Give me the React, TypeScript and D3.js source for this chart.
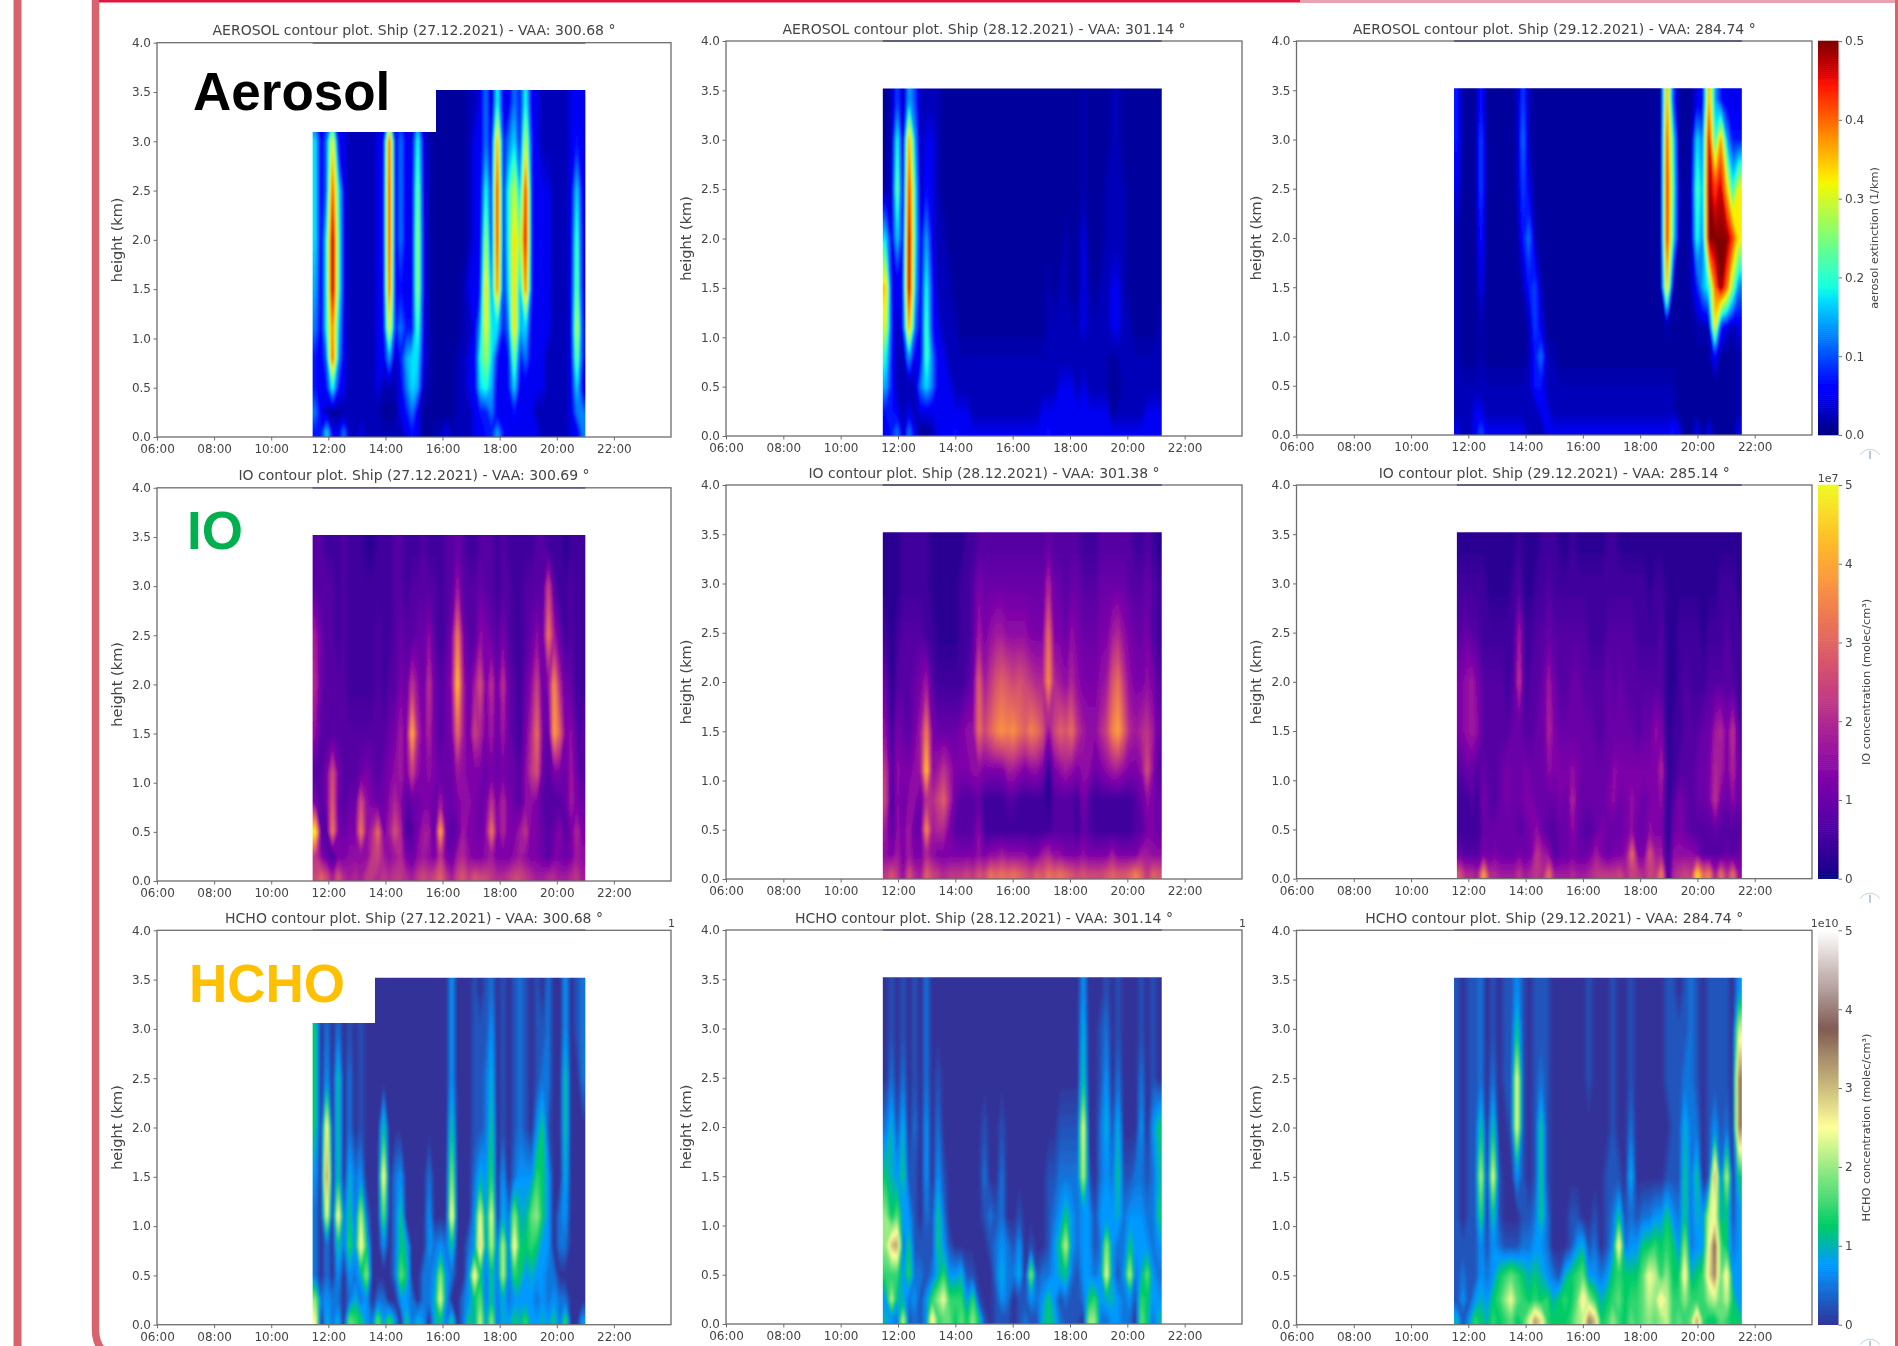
import * as d3 from "d3";
import React, { useRef, useEffect } from "react";

// values are read off the picture, in twentieths of each colour bar's range
// one row per height, 48 time cells across the flight
const heights = [3.4, 3.0, 2.5, 2.0, 1.5, 1.1, 0.8, 0.5, 0.25, 0.05];
const hours = ["06:00", "08:00", "10:00", "12:00", "14:00", "16:00", "18:00", "20:00", "22:00"];

const aerosol27 = [
  [2,1,2,2,2,2,1,1, 1,1,1,1,2,2,1,2, 1,1,3,1,0,0,0,0, 0,0,0,1,1,2,5,1, 8,2,2,5,3,8,2,2, 1,1,1,1,1,2,2,2],
  [7,2,5,13,2,2,1,1, 1,1,1,2,2,17,2,5, 2,2,8,2,1,0,0,0, 0,0,0,1,2,2,5,2, 15,3,5,7,3,12,3,2, 1,1,1,1,1,2,3,2],
  [7,2,5,17,8,2,1,1, 1,1,1,2,2,18,2,5, 2,2,10,2,1,0,0,0, 0,0,0,1,2,2,8,3, 18,3,8,12,6,18,3,2, 2,2,1,1,1,2,7,2],
  [7,2,8,20,9,2,1,1, 1,1,1,2,2,18,2,5, 2,2,11,2,1,0,0,0, 0,0,0,1,2,2,11,3, 18,3,8,14,10,19,3,2, 2,2,1,1,1,2,9,2],
  [6,2,8,20,9,2,1,1, 1,1,1,2,2,17,2,3, 2,2,11,2,1,0,0,0, 0,0,1,2,2,3,14,5, 16,3,7,14,6,16,3,2, 2,2,1,1,1,2,10,2],
  [5,2,8,16,7,2,1,1, 1,1,1,2,2,13,3,5, 3,3,9,2,1,0,0,0, 0,0,1,1,2,6,13,7, 7,3,5,14,6,7,2,2, 2,2,1,1,1,2,12,3],
  [3,2,5,17,6,2,1,1, 1,1,1,2,2,6,1,3, 6,7,7,2,1,0,0,0, 0,1,1,2,2,8,11,7, 3,2,3,10,3,5,2,2, 2,1,1,1,1,2,10,3],
  [3,2,3,8,3,2,1,1, 1,1,1,2,1,1,1,2, 5,7,6,1,1,0,0,0, 0,1,1,2,2,7,8,6, 2,2,3,7,2,2,2,2, 2,1,1,1,1,2,7,2],
  [5,2,1,0,0,1,1,1, 1,1,1,1,0,0,0,2, 3,5,2,0,0,0,0,0, 0,1,1,1,2,3,3,5, 2,2,2,3,2,2,2,1, 1,1,1,1,1,2,5,5],
  [3,3,7,2,2,5,1,1, 2,1,1,1,1,1,1,1, 2,3,2,0,0,1,1,2, 1,1,1,1,2,2,3,3, 6,3,2,2,2,2,2,2, 1,1,1,1,1,2,2,5],
];
const aerosol28 = [
  [0,1,4,1,6,4,1,1, 1,1,0,0,0,0,0,0, 0,0,0,0,0,0,0,0, 0,0,0,0,0,0,0,0, 0,0,1,0,0,0,0,1, 1,0,0,0,0,0,0,0],
  [0,1,8,1,15,6,1,2, 2,1,0,0,0,0,0,0, 0,0,0,0,0,0,0,0, 0,0,0,0,0,0,0,0, 0,0,1,0,0,0,0,1, 1,0,0,0,0,0,0,0],
  [1,1,10,1,18,8,1,3, 2,1,0,0,0,0,0,0, 0,0,0,0,0,0,0,0, 0,0,0,0,0,0,0,0, 0,0,1,0,0,0,1,1, 1,1,0,0,0,0,0,0],
  [7,2,7,2,20,8,2,6, 2,1,1,0,0,0,0,0, 0,0,0,0,0,0,0,0, 0,0,0,0,0,0,0,1, 0,0,2,0,0,0,1,1, 1,1,0,0,0,0,0,0],
  [14,2,2,3,20,7,2,8, 3,1,1,1,0,0,0,0, 0,0,0,0,0,0,0,0, 0,0,0,0,1,0,1,1, 0,0,2,1,0,1,1,2, 2,1,0,0,0,0,0,0],
  [12,3,1,3,15,5,2,9, 3,2,1,1,1,0,0,0, 0,0,0,0,0,0,0,0, 0,0,0,0,1,1,1,1, 1,1,2,1,1,1,1,2, 2,1,1,0,0,0,0,1],
  [8,3,1,1,6,2,2,9, 5,2,2,1,1,1,1,1, 1,1,1,1,1,1,1,1, 1,1,1,1,1,1,1,1, 1,1,1,1,1,1,1,0, 1,1,1,1,1,1,1,1],
  [6,3,1,1,1,1,5,7, 5,2,2,2,1,1,1,1, 1,1,1,1,1,1,1,1, 1,1,1,1,1,1,2,2, 2,1,2,1,1,1,1,0, 0,1,1,1,1,1,1,1],
  [3,3,2,1,2,1,2,2, 2,2,2,2,2,2,2,1, 1,1,1,1,1,1,1,1, 1,1,1,2,2,2,2,2, 2,2,2,2,2,2,2,0, 1,1,1,1,1,2,2,2],
  [2,3,5,1,5,2,0,0, 1,2,2,2,3,2,2,2, 2,2,2,2,2,2,2,2, 2,2,2,2,3,2,2,2, 2,2,2,2,2,2,2,2, 2,2,2,2,2,2,2,2],
];
const aerosol29 = [
  [3,0,0,0,3,0,0,0, 0,0,1,4,1,0,0,0, 0,0,0,0,0,0,0,0, 0,0,0,0,0,0,0,0, 0,0,0,15,4,0,0,0, 2,2,15,6,3,2,2,2],
  [3,0,0,0,4,0,0,0, 0,0,1,5,1,0,0,0, 0,0,0,0,0,0,0,0, 0,0,0,0,0,0,0,0, 0,0,0,17,8,0,0,0, 7,5,19,8,15,6,3,3],
  [2,0,0,0,4,0,0,0, 0,0,1,4,2,0,0,0, 0,0,0,0,0,0,0,0, 0,0,0,0,0,0,0,0, 0,0,0,18,9,1,0,1, 9,6,20,17,19,14,8,13],
  [1,0,0,0,3,0,0,0, 0,0,0,3,5,1,0,0, 0,0,0,0,0,0,0,0, 0,0,0,0,0,0,0,0, 0,0,0,18,8,1,0,1, 8,5,20,20,20,20,17,13],
  [1,0,0,0,2,0,0,0, 0,0,0,1,3,4,1,0, 0,0,0,0,0,0,0,0, 0,0,0,0,0,0,0,0, 0,0,0,14,1,0,0,1, 3,6,8,16,20,16,10,5],
  [1,0,0,0,1,0,0,0, 0,0,0,0,1,4,2,0, 0,0,0,0,0,0,0,0, 0,0,0,0,0,0,0,0, 0,0,0,1,0,0,0,0, 1,1,1,13,3,2,1,2],
  [1,0,0,0,1,0,0,0, 0,0,0,0,1,3,5,1, 1,0,0,0,0,0,0,0, 0,0,0,0,0,0,0,0, 0,0,0,0,0,0,0,0, 0,0,0,3,0,0,0,1],
  [1,1,1,1,1,1,1,1, 1,1,1,1,1,3,3,1, 1,1,1,1,1,1,1,1, 1,1,1,1,1,1,1,1, 1,1,1,1,1,0,0,0, 0,0,0,0,0,0,0,1],
  [1,1,1,2,2,1,1,1, 1,1,1,1,1,1,2,2, 1,1,1,1,1,1,1,1, 1,1,1,1,1,1,1,1, 1,1,1,1,1,0,0,0, 0,0,0,0,0,0,0,1],
  [2,1,1,2,4,2,2,2, 2,2,2,2,1,1,1,2, 2,2,2,2,2,2,2,2, 2,2,2,2,2,2,2,2, 2,2,2,2,3,2,0,0, 2,0,2,0,0,0,0,2],
];
const io27 = [
  [3,3,2,2,2,3,2,2, 2,1,1,2,2,2,3,3, 2,2,2,3,2,2,2,3, 3,4,3,2,2,3,3,3, 2,3,2,2,2,2,2,3, 3,2,2,2,1,2,2,2],
  [3,3,3,3,2,3,2,2, 2,2,2,2,2,2,3,3, 2,3,3,3,3,3,2,3, 3,7,3,3,3,4,3,3, 2,3,3,2,2,3,3,3, 3,10,3,2,2,3,2,2],
  [7,4,3,3,2,3,2,2, 2,2,2,3,2,2,3,4, 3,3,4,4,6,3,2,3, 5,14,5,3,3,6,5,4, 3,5,3,2,2,3,4,6, 4,14,7,4,2,3,2,2],
  [8,4,3,3,3,3,2,2, 2,2,2,3,2,3,3,5, 4,9,6,4,9,4,3,4, 6,18,7,4,7,11,5,9, 4,9,4,3,2,4,6,10, 4,6,15,8,4,4,2,2],
  [6,3,3,3,3,3,3,3, 3,3,3,3,3,4,5,7, 5,17,8,5,8,4,3,4, 5,13,7,4,10,8,5,7, 4,7,4,3,2,5,8,13, 5,3,16,12,5,6,3,3],
  [3,3,5,11,5,3,3,3, 4,5,4,3,4,5,6,7, 5,10,6,5,6,5,4,4, 4,7,6,5,5,5,4,5, 4,5,4,4,3,6,9,11, 4,3,5,5,4,7,4,3],
  [5,3,5,12,4,3,4,4, 11,6,5,4,4,6,8,6, 3,4,4,5,5,4,7,4, 4,5,6,6,5,4,5,9, 5,8,5,4,3,6,6,5, 3,3,3,3,4,7,5,4],
  [20,3,3,14,5,4,5,5, 14,6,8,13,5,7,11,8, 2,3,5,7,7,3,17,4, 3,4,7,5,5,4,6,14, 5,8,5,5,7,9,5,5, 4,3,4,6,3,5,8,5],
  [9,6,4,2,5,5,6,6, 6,6,9,10,7,6,7,8, 5,4,6,7,6,5,9,5, 4,7,8,6,5,5,6,7, 5,5,5,6,7,6,5,5, 4,3,5,5,4,5,7,6],
  [10,12,10,7,11,8,7,8, 7,9,9,8,9,8,9,9, 8,7,9,10,9,10,12,9, 7,10,11,9,11,10,10,9, 8,8,9,10,10,9,8,7, 7,8,8,7,7,8,9,7],
];
const io28 = [
  [1,1,1,2,2,2,2,2, 1,1,1,1,1,1,2,2, 3,3,3,3,3,3,3,3, 3,3,3,3,4,3,3,3, 3,3,2,2,2,3,3,3, 3,3,3,2,2,3,2,1],
  [1,1,1,2,2,2,2,2, 1,1,1,1,1,2,2,3, 5,4,4,4,4,4,4,4, 4,4,4,4,8,4,4,3, 4,4,3,3,3,4,4,4, 4,4,3,3,3,4,3,2],
  [2,1,2,3,3,3,3,2, 2,1,1,1,1,2,2,3, 7,5,6,7,7,6,6,6, 6,5,5,5,13,5,5,4, 6,5,4,4,4,5,5,7, 8,6,5,4,4,5,3,2],
  [4,1,3,3,3,4,5,7, 3,2,2,2,2,2,3,4, 12,7,9,11,12,11,10,11, 10,9,8,8,15,8,7,6, 8,6,5,5,5,6,7,11, 13,9,6,5,5,6,5,3],
  [6,2,5,4,3,5,7,14, 5,4,4,4,4,5,6,6, 13,10,12,14,15,14,15,13, 12,14,13,11,6,10,12,11, 13,9,7,6,6,8,10,14, 16,12,8,7,8,9,7,4],
  [9,3,6,5,5,6,7,18, 6,7,9,7,5,5,5,6, 6,5,5,5,5,7,7,6, 5,6,6,5,1,5,6,7, 6,5,6,6,4,5,6,7, 7,6,5,5,6,11,6,3],
  [10,2,6,4,6,6,4,9, 8,10,12,8,4,3,3,3, 4,2,2,2,2,3,3,2, 2,2,2,2,1,3,3,3, 3,2,5,3,2,2,2,2, 2,2,2,3,4,6,5,4],
  [7,3,6,5,7,4,4,15, 7,8,8,5,3,3,3,3, 6,2,2,2,2,2,2,2, 2,2,2,2,2,3,3,3, 3,2,4,3,2,2,2,2, 2,2,2,3,3,5,5,4],
  [6,5,7,5,7,5,5,8, 6,5,5,5,5,5,5,5, 6,5,6,6,7,6,6,6, 6,5,5,7,8,6,6,5, 5,5,6,5,5,5,5,7, 5,5,5,5,7,7,6,6],
  [9,11,9,6,11,8,7,12, 10,9,8,9,9,9,10,9, 11,10,13,12,13,12,13,12, 11,10,12,11,13,12,13,12, 11,10,11,10,10,10,11,12, 11,11,12,14,12,9,12,11],
];
const io29 = [
  [1,1,1,1,1,1,1,1, 1,1,2,1,1,1,2,2, 2,1,1,2,1,1,1,1, 1,2,2,1,1,1,1,1, 1,1,1,1,1,1,1,1, 1,1,1,1,1,1,1,1],
  [2,2,2,2,2,1,1,1, 1,2,3,1,1,2,2,3, 2,2,2,2,2,2,2,2, 2,2,2,2,2,2,2,2, 1,2,2,1,1,1,1,1, 1,1,1,1,2,2,2,1],
  [3,4,3,3,2,2,2,2, 2,2,7,2,2,3,3,4, 3,3,3,3,3,3,2,2, 2,3,3,3,3,3,2,2, 2,2,3,1,1,2,2,2, 2,1,2,2,2,3,2,2],
  [5,6,7,5,3,3,3,3, 2,3,9,2,3,3,4,7, 4,3,3,4,4,3,3,3, 3,4,3,4,3,3,3,3, 3,3,3,1,1,2,3,2, 2,2,3,3,3,3,3,2],
  [5,6,7,6,3,3,3,3, 3,4,4,3,3,4,4,8, 5,4,4,4,4,4,4,3, 3,4,4,4,4,4,3,4, 4,6,5,1,2,2,3,3, 3,4,4,7,8,5,9,3],
  [3,4,4,3,4,3,3,4, 5,4,4,5,4,4,4,6, 5,5,5,6,5,4,4,4, 4,4,6,5,5,5,5,5, 5,5,8,1,2,3,3,3, 4,4,5,8,7,5,8,4],
  [2,2,3,2,5,3,3,4, 5,4,4,5,5,4,4,4, 4,5,4,8,4,4,4,4, 4,5,6,4,5,6,5,4, 5,5,6,1,3,5,4,3, 4,4,5,9,5,4,6,4],
  [2,2,2,2,4,4,4,4, 4,4,3,4,5,6,4,3, 3,4,4,6,4,3,3,4, 5,4,4,4,5,6,4,4, 6,5,5,1,4,5,4,3, 3,3,3,4,3,3,3,3],
  [4,3,3,3,5,4,5,4, 4,4,5,4,5,9,7,6, 3,4,4,5,4,4,5,7, 5,4,5,5,6,13,5,5, 11,7,7,1,6,6,6,6, 5,3,3,3,3,4,3,4],
  [11,8,8,7,16,8,8,7, 7,7,9,7,8,9,8,13, 7,7,7,8,7,7,8,9, 9,9,9,10,8,10,9,8, 10,9,14,2,8,9,10,9, 19,12,14,7,13,8,13,6],
];
const hcho27 = [
  [2,2,1,1,1,0,1,1, 1,0,0,0,0,0,0,0, 0,0,0,0,0,0,0,0, 3,0,0,0,1,0,1,2, 0,1,0,1,2,1,0,1, 0,2,0,0,3,0,1,2],
  [5,0,2,0,2,0,1,0, 1,0,0,0,0,0,0,0, 0,0,0,0,0,0,0,0, 3,0,0,0,1,1,1,3, 0,1,0,1,2,1,0,1, 1,2,0,0,3,0,1,2],
  [5,0,3,0,5,0,2,0, 1,0,0,0,0,0,0,0, 0,0,0,0,0,0,0,0, 3,0,0,0,1,1,2,4, 0,1,0,1,2,1,0,1, 2,2,0,0,5,0,0,2],
  [5,0,11,0,5,0,2,0, 1,0,0,0,5,0,0,0, 0,0,0,0,0,0,0,0, 5,0,0,0,1,1,2,5, 0,1,0,1,2,1,0,3, 5,1,0,0,5,0,0,0],
  [3,0,14,0,5,0,4,2, 3,0,0,0,11,0,2,3, 0,0,0,0,2,0,0,0, 8,0,0,0,2,4,3,6, 0,3,0,2,3,3,3,6, 5,3,0,0,4,0,0,0],
  [2,0,10,0,11,2,5,2, 9,2,0,0,7,0,2,5, 0,0,0,0,3,0,0,0, 11,0,0,0,3,10,3,10, 0,4,2,8,4,4,7,8, 5,3,0,2,3,0,0,0],
  [2,0,2,0,5,2,6,3, 11,5,0,0,3,0,2,5, 4,0,0,0,3,2,3,2, 5,0,0,2,3,12,3,9, 2,9,2,11,5,5,6,5, 3,3,0,2,2,0,0,0],
  [2,0,2,0,3,0,3,2, 4,8,0,0,0,0,2,7, 5,0,0,2,2,3,8,3, 2,0,0,3,11,5,2,5, 2,9,2,6,5,3,4,3, 3,2,2,0,0,0,0,0],
  [8,2,3,2,2,0,2,4, 2,3,0,2,2,0,0,3, 3,2,0,2,2,4,10,3, 0,0,2,3,5,7,2,5, 2,4,2,3,3,3,3,2, 3,2,3,2,2,0,0,0],
  [10,0,4,2,4,0,7,6, 5,3,2,7,3,6,3,0, 5,2,4,3,0,4,5,2, 5,0,2,5,4,9,3,8, 2,4,3,5,4,6,3,3, 4,3,5,2,6,0,0,3],
];
const hcho28 = [
  [0,1,0,1,0,1,0,2, 0,0,0,0,0,0,0,0, 0,0,0,0,0,0,0,0, 0,0,0,0,0,0,0,0, 0,0,3,0,0,0,1,0, 1,0,0,0,1,0,1,0],
  [0,1,0,1,0,1,0,2, 0,0,0,0,0,0,0,0, 0,0,0,0,0,0,0,0, 0,0,0,0,0,0,0,0, 0,0,4,0,0,1,2,0, 1,0,0,0,1,0,1,0],
  [0,2,0,2,0,1,0,2, 0,1,0,0,0,0,0,0, 0,0,0,0,0,0,0,0, 0,0,0,0,0,0,0,0, 0,0,5,0,0,1,3,0, 2,0,0,0,2,0,1,0],
  [2,4,1,4,0,2,0,3, 0,2,0,0,0,0,0,0, 0,1,0,0,1,0,0,0, 0,0,0,0,0,0,1,1, 1,1,10,0,0,2,4,1, 4,0,0,0,3,0,3,5],
  [5,4,3,5,1,1,0,3, 0,3,1,0,0,0,0,0, 0,2,0,0,2,0,0,0, 0,0,0,0,1,1,2,2, 2,2,9,1,0,2,3,2, 5,1,1,2,2,1,2,4],
  [8,5,7,3,3,1,0,2, 1,5,2,0,0,0,0,0, 0,1,2,1,2,0,0,1, 0,0,0,0,1,2,3,5, 3,2,3,3,1,3,3,3, 4,2,3,3,3,2,2,5],
  [8,12,13,2,5,1,1,1, 1,5,3,1,0,0,0,0, 0,0,1,2,3,2,1,3, 0,1,0,0,1,3,5,9, 3,2,3,3,1,2,8,3, 2,2,5,3,3,3,2,3],
  [6,6,6,3,6,2,2,1, 2,4,6,3,3,4,1,1, 0,0,0,2,4,2,2,4, 0,8,1,2,2,3,4,5, 2,1,3,3,2,3,10,3, 1,3,9,2,4,7,3,2],
  [3,9,4,4,2,3,1,3, 6,8,10,6,6,6,3,6, 1,0,0,1,3,2,0,1, 1,3,2,3,5,3,1,2, 1,1,2,5,6,3,4,4, 3,2,3,1,6,5,3,3],
  [4,3,2,9,1,2,1,3, 11,6,7,7,5,7,5,8, 5,1,0,1,1,1,0,1, 2,1,1,4,5,4,2,1, 1,1,0,8,8,2,2,3, 3,2,2,0,7,5,2,4],
];
const hcho29 = [
  [1,0,1,1,2,0,1,0, 1,1,3,1,0,1,1,1, 0,0,0,0,0,0,1,0, 0,0,1,0,0,1,0,0, 0,0,0,1,1,0,1,2, 1,0,1,1,1,1,0,3],
  [1,0,1,1,2,0,1,0, 1,1,5,1,0,1,1,1, 0,0,0,0,0,0,1,0, 0,0,1,0,0,1,0,0, 0,0,0,1,1,1,1,2, 1,0,1,1,1,1,0,9],
  [1,0,1,1,2,0,2,0, 1,1,10,1,0,1,2,1, 0,0,0,0,0,0,1,0, 0,0,1,0,0,1,0,0, 0,0,0,1,1,1,2,2, 1,0,1,1,1,1,0,14],
  [1,0,1,1,5,0,5,0, 0,1,10,1,0,1,5,1, 0,0,0,0,0,0,0,0, 0,0,1,0,0,2,0,0, 0,0,0,0,1,1,4,2, 2,0,1,3,1,2,0,14],
  [1,0,1,1,9,0,10,1, 0,0,3,1,0,1,5,1, 0,0,0,0,0,0,0,0, 0,1,1,1,0,4,0,0, 0,0,0,1,1,1,5,2, 5,0,1,13,2,9,0,5],
  [1,0,1,1,6,0,5,1, 0,0,0,1,1,2,5,2, 0,0,0,1,1,0,0,1, 0,1,2,5,1,2,1,2, 2,3,3,5,3,2,5,2, 4,3,9,10,4,5,1,3],
  [1,1,1,1,3,1,3,2, 1,1,1,2,2,3,3,2, 0,0,0,1,3,4,1,2, 0,1,3,11,2,3,3,5, 5,6,5,6,5,3,8,2, 3,3,10,15,6,5,2,3],
  [1,2,1,1,3,2,3,5, 6,7,6,5,4,5,4,3, 2,1,4,5,6,7,3,3, 2,3,5,6,5,5,5,7, 10,9,6,8,5,5,11,4, 5,6,11,14,7,11,3,3],
  [1,3,1,3,4,3,5,6, 8,10,7,6,5,6,5,6, 4,5,6,5,7,11,8,6, 4,5,6,7,5,6,6,7, 9,8,11,9,6,6,8,6, 6,6,8,9,7,9,5,3],
  [4,1,3,6,5,4,6,5, 6,7,5,6,9,13,11,6, 5,5,5,6,8,9,14,12, 5,6,8,6,5,7,6,7, 8,7,8,9,6,7,6,7, 13,6,5,5,7,6,5,5],
];

const grids = [
  [aerosol27, aerosol28, aerosol29],
  [io27, io28, io29],
  [hcho27, hcho28, hcho29],
];
const titles = [
  ["AEROSOL contour plot. Ship (27.12.2021) - VAA: 300.68 °", "AEROSOL contour plot. Ship (28.12.2021) - VAA: 301.14 °", "AEROSOL contour plot. Ship (29.12.2021) - VAA: 284.74 °"],
  ["IO contour plot. Ship (27.12.2021) - VAA: 300.69 °", "IO contour plot. Ship (28.12.2021) - VAA: 301.38 °", "IO contour plot. Ship (29.12.2021) - VAA: 285.14 °"],
  ["HCHO contour plot. Ship (27.12.2021) - VAA: 300.68 °", "HCHO contour plot. Ship (28.12.2021) - VAA: 301.14 °", "HCHO contour plot. Ship (29.12.2021) - VAA: 284.74 °"],
];
// flight start and end (hours), one pair per panel
const flightStart = [[11.45, 11.47, 11.5], [11.45, 11.47, 11.6], [11.45, 11.47, 11.5]];
const flightEnd = [[21, 21.2, 21.55], [21, 21.2, 21.55], [21, 21.2, 21.55]];
const topHeight = 3.52;
// the aerosol background never reaches the very bottom of the jet bar
const fieldFloor = [0.6, 0, 0];

const colLeft = [157, 726, 1296.5];
const colRight = [671, 1242, 1812];
const rowTop = [[42.7, 41, 41], [487.8, 485, 485], [930.3, 930, 930.3]];
const rowBottom = [[437, 436, 435], [881, 879, 878.7], [1324.7, 1324, 1324.7]];

const barTicks = [[0, 0.1, 0.2, 0.3, 0.4, 0.5], [0, 1, 2, 3, 4, 5], [0, 1, 2, 3, 4, 5]];
const barLabels = ["aerosol extinction (1/km)", "IO concentration (molec/cm³)", "HCHO concentration (molec/cm³)"];
const barExponents = ["", "1e7", "1e10"];

const jetStops = [0, 0.11, 0.125, 0.34, 0.375, 0.5, 0.64, 0.66, 0.89, 0.91, 1];
const jetColors = ["#00007f", "#0000ff", "#0000ff", "#00dbff", "#14ffe2", "#7cff79", "#f4f802", "#ffe600", "#ff1300", "#e80000", "#7f0000"];
const terrainStops = [0, 0.15, 0.25, 0.5, 0.75, 1];
const terrainColors = ["#333399", "#0099ff", "#00cc66", "#ffff99", "#805c54", "#ffffff"];

const jet = d3.scaleLinear<string>().domain(jetStops).range(jetColors).interpolate(d3.interpolateRgb);
const terrain = d3.scaleLinear<string>().domain(terrainStops).range(terrainColors).interpolate(d3.interpolateRgb);
const colorMaps: ((t: number) => string)[] = [jet, d3.interpolatePlasma, terrain];

const FONT = "'DejaVu Sans', sans-serif";
const INK = "#444444";
const SPINE = "#6e6e6e";

// repeat the outer cells once, the contour rings then close outside the clip
const padGrid = (grid: number[][]) => {
  const rows = grid.map((row) => [row[0], ...row, row[row.length - 1]]);
  return [rows[0], ...rows, rows[rows.length - 1]];
};

const App = () => {
  const ref = useRef<SVGSVGElement>(null);

  useEffect(() => {
    const svgRoot = d3.select(ref.current);
    svgRoot.selectAll("*").remove();

    const defs = svgRoot.append("defs");
    defs.append("filter").attr("id", "soft").attr("x", "-5%").attr("y", "-5%").attr("width", "110%").attr("height", "110%")
      .append("feGaussianBlur").attr("stdDeviation", "1.1 1.4");
    // the source is a rescaled screenshot, everything is slightly out of focus
    defs.append("filter").attr("id", "focus").attr("filterUnits", "userSpaceOnUse")
      .attr("x", 0).attr("y", 0).attr("width", 1898).attr("height", 1346)
      .append("feGaussianBlur").attr("stdDeviation", 0.45);
    const svg = svgRoot.append("g").attr("filter", "url(#focus)");

    const levels = d3.range(0, 20.01, 0.25);
    const nRows = heights.length;
    const cellEdges = [-1, 0, ...heights.map((_, j) => j + 0.5), nRows, nRows + 1];
    const cellHeights = [topHeight + 0.1, topHeight, ...heights, 0, -0.1];

    grids.forEach((row, r) => {
      row.forEach((grid, c) => {
        const left = colLeft[c], right = colRight[c], top = rowTop[r][c], bottom = rowBottom[r][c];
        const x = d3.scaleLinear().domain([6, 24]).range([left, right]);
        const y = d3.scaleLinear().domain([0, 4]).range([bottom, top]);
        const g = svg.append("g");
        const clipId = `clip-${r}-${c}`;
        const nCols = grid[0].length;
        const start = flightStart[r][c], end = flightEnd[r][c];

        // contour coordinates (with the padding cell) -> hours / km -> pixels
        const cellX = d3.scaleLinear().domain([0, nCols]).range([start, end]);
        const cellY = d3.scaleLinear().domain(cellEdges).range(cellHeights);
        const project = d3.geoTransform({
          point(px: number, py: number) {
            (this as any).stream.point(x(cellX(px - 1)), y(cellY(py - 1)));
          },
        });
        const path = d3.geoPath(project);
        const values = padGrid(grid).flat().map((v) => Math.max(v, fieldFloor[r]));
        const contours = d3.contours().size([nCols + 2, nRows + 2]).thresholds(levels)(values);

        defs.append("clipPath").attr("id", clipId).append("rect")
          .attr("x", x(start)).attr("y", y(topHeight))
          .attr("width", x(end) - x(start)).attr("height", y(0) - y(topHeight));

        const clipped = g.append("g").attr("clip-path", `url(#${clipId})`);
        clipped.append("g").attr("filter", "url(#soft)")
          .selectAll("path").data(contours).enter().append("path")
          .attr("d", (d: any) => path(d))
          .attr("fill", (d: any) => colorMaps[r](d.value / 20));

        // the flight line along the top of the frame
        g.append("line").attr("x1", x(start)).attr("x2", x(end)).attr("y1", top).attr("y2", top)
          .attr("stroke", colorMaps[r](0)).attr("stroke-width", 1.6);

        g.append("rect").attr("x", left).attr("y", top).attr("width", right - left).attr("height", bottom - top)
          .attr("fill", "none").attr("stroke", SPINE).attr("stroke-width", 1.3);

        const axisBottom = d3.axisBottom(x)
          .tickValues(hours.map((h) => +h.slice(0, 2)))
          .tickFormat((d: any) => hours[(d - 6) / 2])
          .tickSize(3.5).tickPadding(4);
        const ax = g.append("g").attr("transform", `translate(0,${bottom})`).call(axisBottom);
        const axisLeft = d3.axisLeft(y).tickValues(d3.range(0, 4.01, 0.5)).tickFormat(d3.format(".1f")).tickSize(3.5).tickPadding(2.5);
        const ay = g.append("g").attr("transform", `translate(${left},0)`).call(axisLeft);
        [ax, ay].forEach((a) => {
          a.select(".domain").remove();
          a.attr("font-family", FONT).attr("font-size", 12);
          a.selectAll("line").attr("stroke", SPINE);
          a.selectAll("text").attr("fill", INK);
        });

        g.append("text").attr("x", (left + right) / 2).attr("y", top - 7.5)
          .attr("text-anchor", "middle").attr("font-family", FONT).attr("font-size", 14).attr("fill", INK)
          .text(titles[r][c]);
        g.append("text").attr("transform", `translate(${left - 35.5},${(top + bottom) / 2}) rotate(-90)`)
          .attr("text-anchor", "middle").attr("font-family", FONT).attr("font-size", 14.5).attr("fill", INK)
          .text("height (km)");
      });

      // colour bar
      const top = rowTop[r][2], bottom = rowBottom[r][2];
      const ticks = barTicks[r];
      const barScale = d3.scaleLinear().domain([ticks[0], ticks[5]]).range([bottom, top]);
      const bar = svg.append("g");
      const steps = d3.range(0, 1, 1 / 200);
      bar.selectAll("rect").data(steps).enter().append("rect")
        .attr("x", 1818).attr("width", 20.5)
        .attr("y", (t: number) => barScale(ticks[5] * (t + 1 / 200)) - 0.3)
        .attr("height", (bottom - top) / 200 + 0.6)
        .attr("fill", (t: number) => colorMaps[r](t + 0.0025));
      const axisBar = d3.axisRight(barScale).tickValues(ticks)
        .tickFormat(r === 0 ? d3.format(".1f") : d3.format("d")).tickSize(3.5).tickPadding(3);
      const ab = bar.append("g").attr("transform", "translate(1838.5,0)").call(axisBar);
      ab.select(".domain").remove();
      ab.attr("font-family", FONT).attr("font-size", 12);
      ab.selectAll("line").attr("stroke", SPINE);
      ab.selectAll("text").attr("fill", INK);
      bar.append("text").attr("transform", `translate(${r === 0 ? 1878 : 1870},${(top + bottom) / 2}) rotate(-90)`)
        .attr("text-anchor", "middle").attr("font-family", FONT).attr("font-size", 11.3).attr("fill", INK)
        .text(barLabels[r]);
      if (barExponents[r]) {
        bar.append("text").attr("x", 1838.5).attr("y", top - 3).attr("text-anchor", "end")
          .attr("font-family", FONT).attr("font-size", 11).attr("fill", INK).text(barExponents[r]);
      }
      // faint logo remnant under each bar
      const arc = d3.arc()({ innerRadius: 11, outerRadius: 12, startAngle: -1, endAngle: 1 } as any);
      const logo = svg.append("g").attr("transform", `translate(1870,${bottom + 26})`);
      logo.append("path").attr("d", arc).attr("fill", "#c3d3e8");
      logo.append("line").attr("y1", -10).attr("y2", -2).attr("stroke", "#8aa6c8").attr("stroke-width", 1.2);
    });

    // stray clipped characters of the next axes
    [671, 1242].forEach((x0) => {
      svg.append("text").attr("x", x0 - 3).attr("y", 927).attr("font-family", FONT).attr("font-size", 11).attr("fill", INK).text("1");
    });

    // slide annotations
    svg.append("rect").attr("x", 180).attr("y", 60).attr("width", 256).attr("height", 72).attr("fill", "#fff");
    svg.append("rect").attr("x", 180).attr("y", 950).attr("width", 195).attr("height", 73).attr("fill", "#fff");
    const labels = [
      { t: "Aerosol", x: 193, y: 110, fill: "#000000" },
      { t: "IO", x: 187, y: 549, fill: "#00b050" },
      { t: "HCHO", x: 189, y: 1002, fill: "#ffc000" },
    ];
    labels.forEach((l) => {
      svg.append("text").attr("x", l.x).attr("y", l.y).attr("font-family", "'Liberation Sans', sans-serif")
        .attr("font-weight", 700).attr("font-size", 53).attr("fill", l.fill).text(l.t);
    });

    // slide frame
    svg.append("rect").attr("x", 13.5).attr("y", 0).attr("width", 8).attr("height", 1346).attr("fill", "#d9636c");
    svg.append("path").attr("d", "M95.5,0 V1330 Q95.5,1342 102,1350").attr("fill", "none").attr("stroke", "#d9636c").attr("stroke-width", 7.5);
    svg.append("rect").attr("x", 99).attr("y", 0).attr("width", 1201).attr("height", 2.5).attr("fill", "#e0173f");
    svg.append("rect").attr("x", 1300).attr("y", 0).attr("width", 598).attr("height", 3).attr("fill", "#e8a3b0");
    svg.append("rect").attr("x", 1895).attr("y", 0).attr("width", 3).attr("height", 1346).attr("fill", "#d9636c");
  }, []);

  return (
    <svg
      ref={ref}
      width={1898}
      height={1346}
      style={{ position: "absolute", left: 0, top: 0, display: "block", background: "#fff" }}
    />
  );
};

export default App;
